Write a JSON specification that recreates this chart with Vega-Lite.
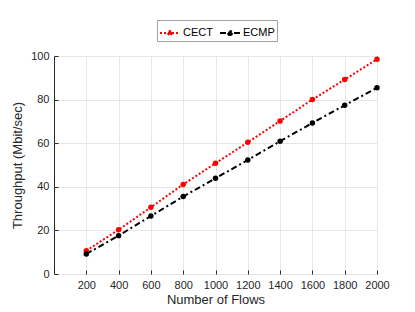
{
  "$schema": "https://vega.github.io/schema/vega-lite/v6.json",
  "width": 323,
  "height": 218,
  "autosize": {"type": "none"},
  "padding": {"left": 54, "top": 56, "right": 38, "bottom": 38},
  "background": "white",
  "config": {
    "font": "Liberation Sans",
    "view": {"stroke": "#262626", "strokeWidth": 1},
    "axis": {
      "labelFont": "Liberation Sans",
      "labelFontSize": 11,
      "labelColor": "#262626",
      "titleFont": "Liberation Sans",
      "titleFontSize": 13,
      "titleFontWeight": "normal",
      "titleColor": "#262626",
      "domain": false,
      "tickColor": "#262626",
      "gridColor": "#e6e6e6",
      "gridWidth": 1
    }
  },
  "data": {
    "values": [
      {"flows": 200, "throughput": 10.7, "method": "CECT"},
      {"flows": 400, "throughput": 20.3, "method": "CECT"},
      {"flows": 600, "throughput": 30.6, "method": "CECT"},
      {"flows": 800, "throughput": 41.1, "method": "CECT"},
      {"flows": 1000, "throughput": 50.8, "method": "CECT"},
      {"flows": 1200, "throughput": 60.4, "method": "CECT"},
      {"flows": 1400, "throughput": 70.2, "method": "CECT"},
      {"flows": 1600, "throughput": 80.0, "method": "CECT"},
      {"flows": 1800, "throughput": 89.2, "method": "CECT"},
      {"flows": 2000, "throughput": 98.5, "method": "CECT"},
      {"flows": 200, "throughput": 9.2, "method": "ECMP"},
      {"flows": 400, "throughput": 17.6, "method": "ECMP"},
      {"flows": 600, "throughput": 26.6, "method": "ECMP"},
      {"flows": 800, "throughput": 35.5, "method": "ECMP"},
      {"flows": 1000, "throughput": 43.9, "method": "ECMP"},
      {"flows": 1200, "throughput": 52.3, "method": "ECMP"},
      {"flows": 1400, "throughput": 60.9, "method": "ECMP"},
      {"flows": 1600, "throughput": 69.3, "method": "ECMP"},
      {"flows": 1800, "throughput": 77.4, "method": "ECMP"},
      {"flows": 2000, "throughput": 85.4, "method": "ECMP"}
    ]
  },
  "encoding": {
    "x": {
      "field": "flows", "type": "quantitative",
      "scale": {"domain": [0, 2000], "nice": false},
      "axis": {"values": [200,400,600,800,1000,1200,1400,1600,1800,2000], "format": "d", "title": "Number of Flows", "tickSize": -4, "labelPadding": 9, "titlePadding": 3, "labelFlush": false}
    },
    "y": {
      "field": "throughput", "type": "quantitative",
      "scale": {"domain": [0, 100], "nice": false},
      "axis": {"values": [0,20,40,60,80,100], "title": "Throughput (Mbit/sec)", "tickSize": -4, "labelPadding": 9, "titlePadding": 6}
    },
    "color": {
      "field": "method", "type": "nominal",
      "scale": {"domain": ["CECT", "ECMP"], "range": ["#ff0000", "#000000"]},
      "legend": {
        "title": null,
        "orient": "none",
        "direction": "horizontal",
        "legendX": 103,
        "legendY": -36,
        "strokeColor": "#a0a0a0",
        "fillColor": "white",
        "padding": 2,
        "labelFont": "Liberation Sans",
        "labelFontSize": 11,
        "labelColor": "#000000",
        "symbolType": "M-1,0L1,0M0.2,0A0.2,0.2 0 1,1 -0.2,0A0.2,0.2 0 1,1 0.2,0Z",
        "symbolSize": 400,
        "symbolStrokeWidth": 2,
        "columnPadding": 3,
        "labelOffset": 2,
        "encode": {
          "symbols": {"update": {"fill": {"field": "value", "scale": "color"}, "fillOpacity": {"value": 1}}}
        }
      }
    }
  },
  "layer": [
    {
      "mark": {"type": "line", "strokeWidth": 2},
      "encoding": {
        "strokeDash": {
          "field": "method", "type": "nominal",
          "scale": {"domain": ["CECT", "ECMP"], "range": [[2, 2], [6, 3, 2, 3]]},
          "legend": null
        }
      }
    },
    {
      "mark": {"type": "point", "filled": true, "opacity": 1, "size": 30}
    }
  ]
}
